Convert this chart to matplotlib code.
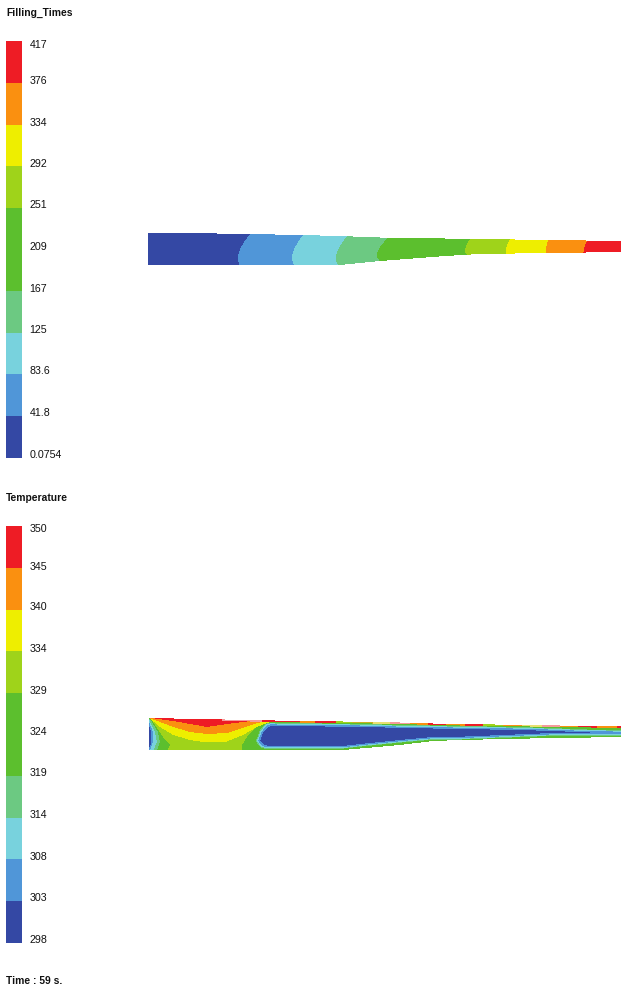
import numpy as np
import matplotlib
matplotlib.use("Agg")
import matplotlib.pyplot as plt
from matplotlib.colors import to_rgb

plt.rcParams["font.family"] = ["Liberation Sans", "DejaVu Sans"]

# Legend bins, low to high (the green bin is doubled in the original)
bin_colors = ["#3448a4", "#5096d8", "#78d2dd", "#6cc982", "#5cbf2e",
              "#5cbf2e", "#9fd31a", "#eeee00", "#fa9010", "#ee1c25"]
filling_labels = ["417", "376", "334", "292", "251", "209", "167", "125", "83.6", "41.8", "0.0754"]
temp_labels = ["350", "345", "340", "334", "329", "324", "319", "314", "308", "303", "298"]
filling_label_y = [43.5, 80.5, 121.5, 163, 204.5, 246, 287.5, 329, 370.5, 412, 454.5]
temp_label_y = [528, 565.5, 606.5, 648, 689.5, 731, 772.5, 814, 855.5, 897, 939]

# Part outline (pixels): filling part
fill_x = [148, 183, 250, 300, 340, 380, 445, 480, 621]
fill_top = [233, 233, 234, 235, 236, 237.5, 238.5, 239, 241]
fill_bot = [265, 265, 265, 265, 265, 261, 256, 254, 252]

# Filling fronts: x at top, at the bulge and at the bottom wall
front_top = [250, 303, 347, 388, 470, 510, 548, 587]
front_mid = [238, 292, 336, 377, 465, 506, 546, 584]
front_bot = [239, 294, 338, 380, 467, 506, 546, 583]
front_colors = ["#5096d8", "#78d2dd", "#6cc982", "#5cbf2e", "#9fd31a", "#eeee00", "#fa9010", "#ee1c25"]
front_s = [0, 0.2, 0.4, 0.6, 0.72, 0.85]
front_frac = [1, 0.62, 0.28, 0.06, 0, 0.01]

# Temperature part outline
temp_x = [149, 300, 343, 400, 433, 460, 530, 621]
temp_top = [718, 721, 721.5, 722.5, 723.5, 724, 725, 726.5]
temp_bot = [750, 750, 750, 745, 741, 740, 738.5, 737]

# Hot lobe: lower edge of each band
yellow_x = [149, 160, 173, 190, 207, 227, 243, 257, 270, 285]
yellow_y = [718, 727, 735, 740, 742.5, 741.5, 735, 727, 722, 721]
orange_x = [149, 160, 173, 190, 207, 227, 243, 257, 273, 290]
orange_y = [718, 722, 727, 732, 734, 733, 728, 723, 720.5, 721]
red_x = [149, 155, 173, 190, 207, 227, 243, 260, 270]
red_y = [718, 718.5, 721, 724, 727, 724, 722, 720, 719]

# Lime area edges, x against y
lime_y = [718, 725, 737, 745, 751]
lime_right = [273, 258, 247, 242, 242]
lime_left = [150, 155, 163, 170, 167]

# Left wall strips, x against y
wall_y = [718, 722, 732, 742, 751]
wall_colors = ["#6cc982", "#78d2dd", "#5096d8", "#3448a4"]
wall_x = [[149, 152, 158, 160, 157],
          [149, 150, 155, 157, 153],
          [149, 149, 153, 153, 150],
          [148, 148, 151, 151.5, 148]]

# Cold core, rings are an offset of it
core_x = [250, 258, 260, 263, 268, 273, 280, 343, 370, 400, 433, 460, 520, 553, 590, 621]
core_top = [752, 745, 741, 733, 727, 725.5, 726, 726.7, 727, 728, 728.5, 729, 730, 731, 732.5, 733]
core_bot = [730, 736, 740, 744, 746, 746, 746, 746, 743, 740, 737, 736.7, 734.3, 733, 732.5, 733]
ring_colors = ["#6cc982", "#78d2dd", "#5096d8", "#3448a4"]
ring_offset = [3.0, 2.3, 1.4, 0]

# Thin hot strip along the top wall
strip_start = [222, 262, 300, 315, 336, 352, 373, 390, 410, 428, 446, 465, 483, 503, 522, 542, 560, 578, 597, 617]
strip_end = [262, 300, 315, 336, 352, 373, 390, 410, 428, 446, 465, 483, 503, 522, 542, 560, 578, 597, 617, 621]
strip_colors = ["#f59a9a", "#ee1c25", "#fa9010", "#ee1c25", "#9fd31a", "#c8b020", "#e8e070", "#f59a9a",
                "#fa9010", "#ee1c25", "#fa9010", "#ee1c25", "#9fd31a", "#fa9010", "#e8e070", "#f59a9a",
                "#fa9010", "#ee1c25", "#fa9010", "#ee1c25"]

W, H = 625, 987
canvas = np.ones((H, W, 3))
cols = np.arange(W) + 0.5
rows = np.arange(H) + 0.5
X, Y = np.meshgrid(cols, rows)


def paint(mask, color):
    canvas[mask] = to_rgb(color)


# Filling time panel
top_edge = np.interp(X, fill_x, fill_top)
bot_edge = np.interp(X, fill_x, fill_bot)
inside = (X >= fill_x[0]) & (X <= fill_x[-1]) & (Y >= top_edge) & (Y <= bot_edge)
paint(inside, bin_colors[0])
for t, m, b, c in zip(front_top, front_mid, front_bot, front_colors):
    y0 = np.interp(m, fill_x, fill_top)
    y1 = np.interp(m, fill_x, fill_bot)
    s = (Y - y0) / (y1 - y0)
    end_frac = (b - m) / (t - m)
    front = m + (t - m) * np.interp(s, front_s + [1], front_frac + [end_frac])
    paint(inside & (X >= front), c)

# Temperature panel
top_edge = np.interp(X, temp_x, temp_top)
bot_edge = np.interp(X, temp_x, temp_bot)
inside = (X >= temp_x[0]) & (X <= temp_x[-1]) & (Y >= top_edge) & (Y <= bot_edge)
paint(inside, "#5cbf2e")

lime = (X > np.interp(Y, lime_y, lime_left)) & (X < np.interp(Y, lime_y, lime_right))
paint(inside & lime, "#9fd31a")
for lx, ly, c in [(yellow_x, yellow_y, "#eeee00"), (orange_x, orange_y, "#fa9010"), (red_x, red_y, "#ee1c25")]:
    paint(inside & (X < lx[-1]) & (Y < np.interp(X, lx, ly)), c)

for c, wx in zip(wall_colors, wall_x):
    paint(inside & (X < np.interp(Y, wall_y, wx)), c)

for c, off in zip(ring_colors, ring_offset):
    t = np.interp(X + off, core_x, core_top) - off
    b = np.interp(X + off, core_x, core_bot) + off
    paint(inside & (X > core_x[0]) & (Y > t) & (Y < b), c)

for s, e, c in zip(strip_start, strip_end, strip_colors):
    paint(inside & (X >= s) & (X < e) & (Y < top_edge + 1.5), c)

fig = plt.figure(figsize=(6.25, 9.87), dpi=100)
ax = fig.add_axes([0, 0, 1, 1])
ax.imshow(canvas, extent=(0, W, H, 0), interpolation="nearest", aspect="auto")
ax.set_xlim(0, W)
ax.set_ylim(H - 1, -1)  # everything sat one pixel high
ax.axis("off")


def colorbar(top, labels, label_y, title, title_y):
    height = 41.6
    for i, c in enumerate(bin_colors):
        ax.bar(6, height + 0.5, width=15.5, bottom=top + (9 - i) * height, color=c, align="edge", lw=0)
    for lab, y in zip(labels, label_y):
        ax.text(29.5, y, lab, fontsize=7.7, va="center", ha="left", color="#111111")
    ax.text(6, title_y, title, fontsize=7.4, va="center", ha="left", color="#111111", fontweight="bold")


colorbar(41, filling_labels, filling_label_y, "Filling_Times", 12)
colorbar(526, temp_labels, temp_label_y, "Temperature", 497)
ax.text(6, 980.5, "Time : 59 s.", fontsize=7.4, va="center", ha="left", color="#111111", fontweight="bold")

fig.savefig("out.png", dpi=100)
